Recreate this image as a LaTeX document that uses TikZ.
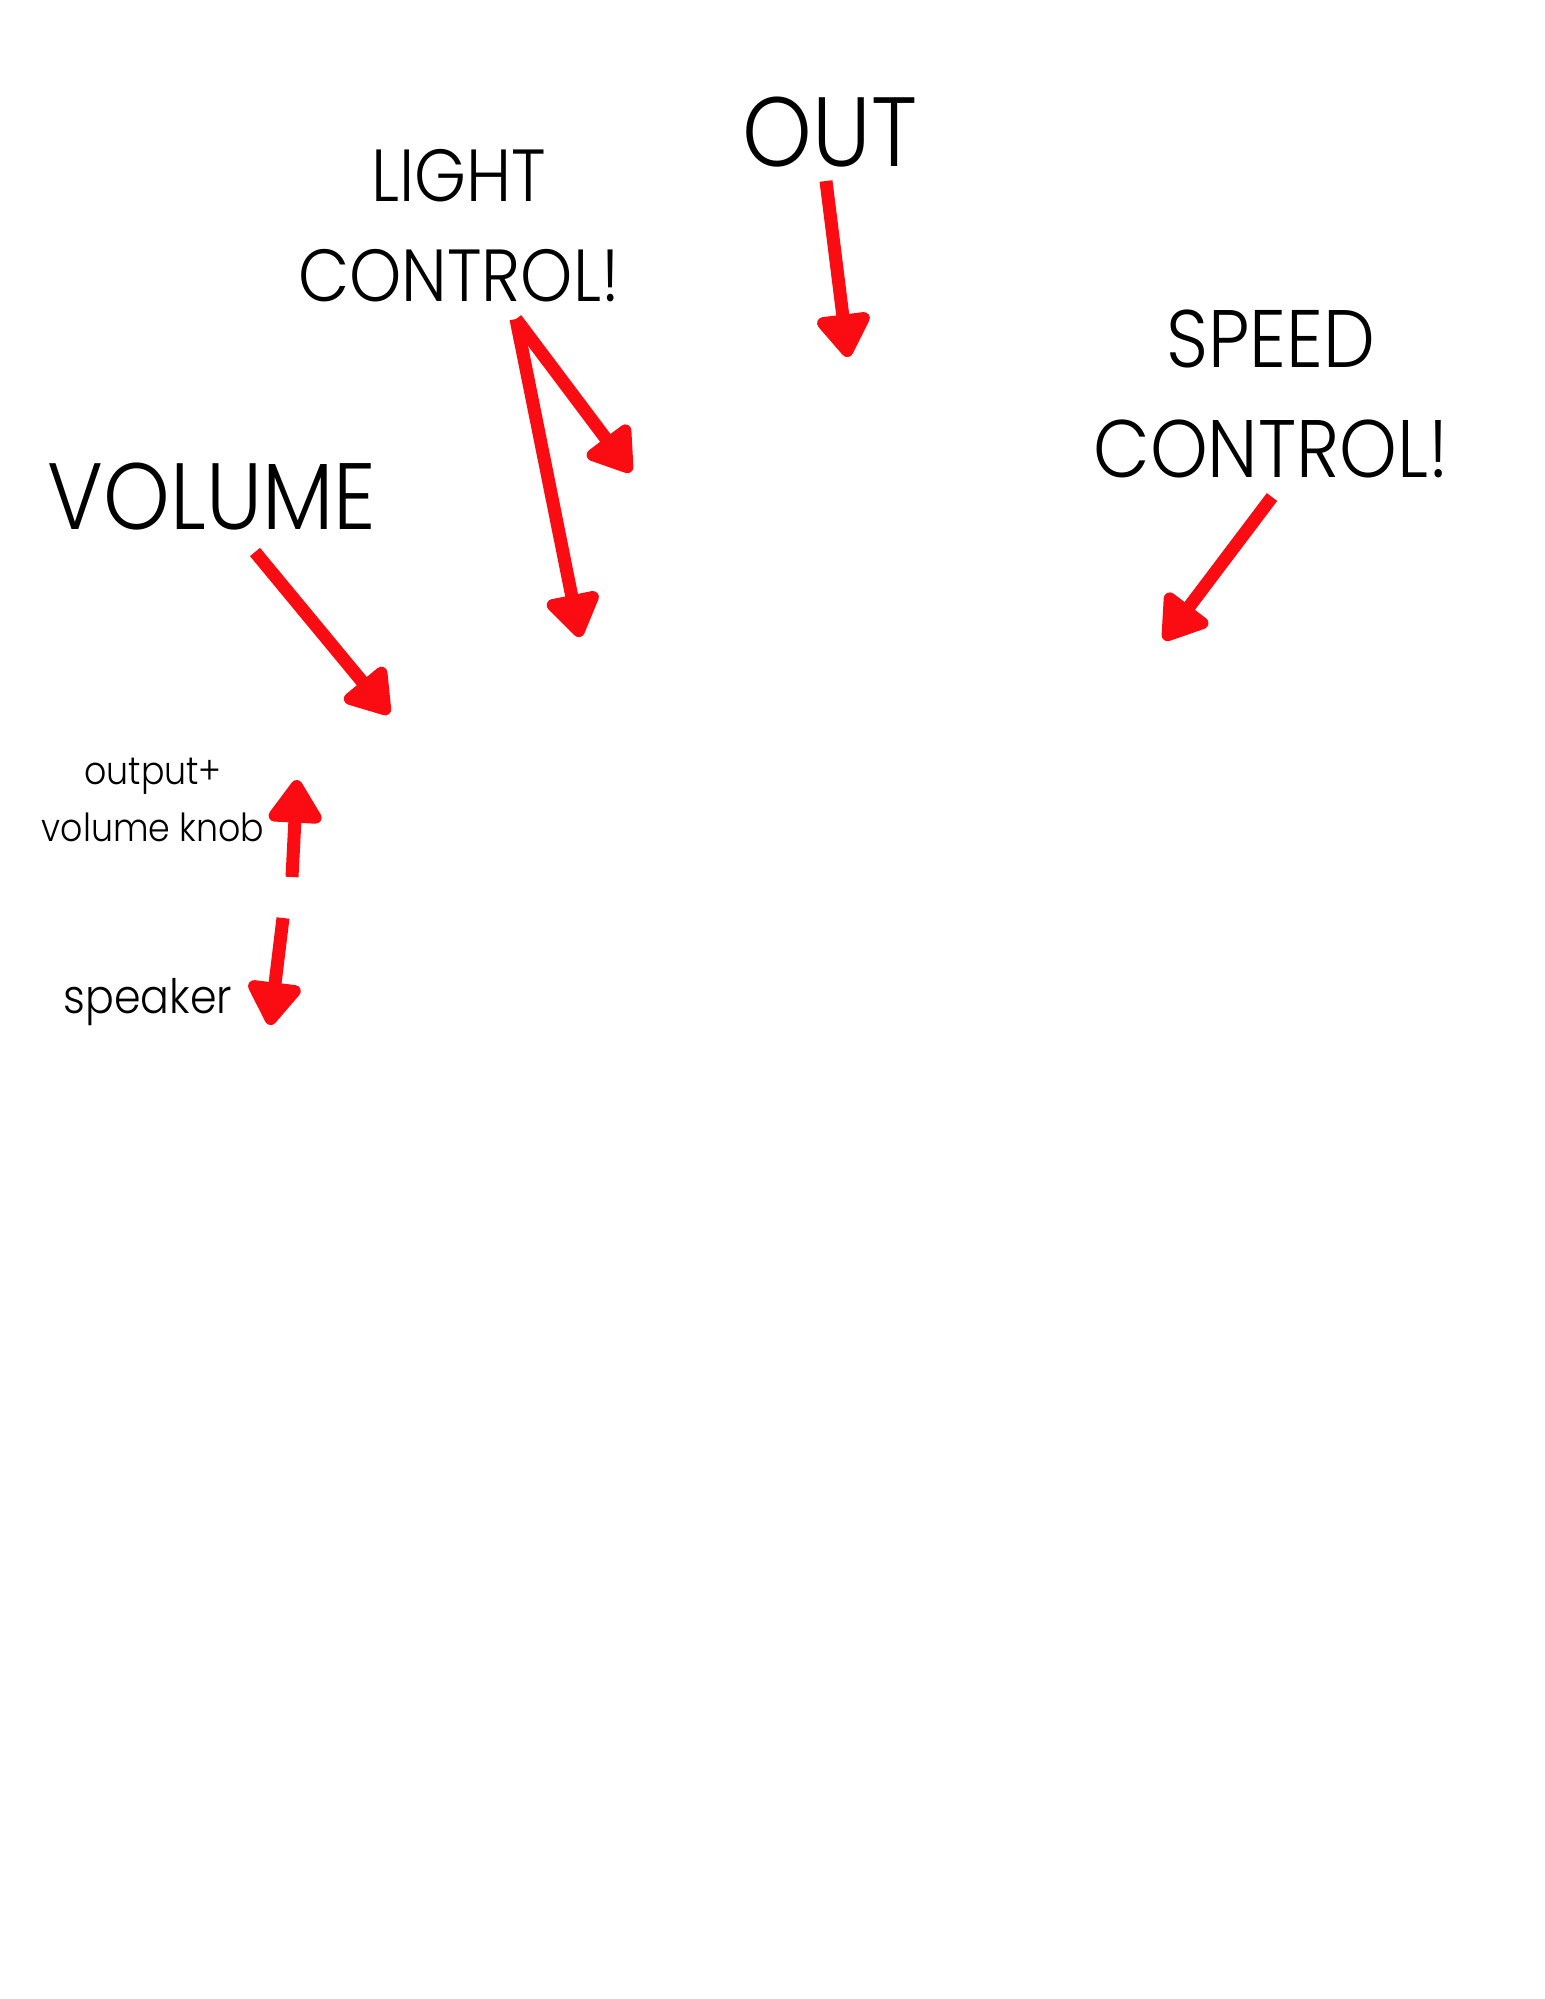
\documentclass[tikz,border=0pt]{standalone}
\usepackage{fontspec}
\setmainfont{Poppins}[UprightFont={* Light}, FakeStretch=0.9]
\usetikzlibrary{arrows.meta}
\definecolor{rosso}{RGB}{250,12,18}

\begin{document}
\begin{tikzpicture}[
        freccia/.style={rosso, line width=1.3mm, -{Triangle[width=6mm,length=4.8mm,round]}},
        scritta/.style={anchor=base, font=\fontsize{#1}{#1}\selectfont},
        scritta/.default=20]
        %area del foglio
            \path[use as bounding box, fill=white] (0,0) rectangle (15.45,-19.99);
        %etichette
            \node (out) at (8.30,-1.66)[scritta=28]{OUT};
            \node (lightA) at (4.59,-2.01)[scritta=21]{LIGHT};
            \node (lightB) at (4.59,-3.01)[scritta=21]{CONTROL!};
            \node (speedA) at (12.71,-3.67)[scritta=23.2]{SPEED};
            \node (speedB) at (12.71,-4.77)[scritta=23.2]{CONTROL!};
            \node (volume) at (2.12,-5.29)[scritta=26.8]{VOLUME};
            \node (outputA) at (1.53,-7.84)[scritta=11]{output+};
            \node (outputB) at (1.53,-8.41)[scritta=11]{volume knob};
            \node (speaker) at (1.48,-10.13)[scritta=13.5]{speaker};
        %estremi delle frecce
            \coordinate (outS) at (8.26,-1.81);
            \coordinate (outT) at (8.48,-3.57);
            \coordinate (lightS) at (5.16,-3.19);
            \coordinate (lightT1) at (6.31,-4.72);
            \coordinate (lightT2) at (5.80,-6.37);
            \coordinate (speedS) at (12.72,-4.97);
            \coordinate (speedT) at (11.64,-6.40);
            \coordinate (volS) at (2.55,-5.52);
            \coordinate (volT) at (3.89,-7.14);
            \coordinate (knobS) at (2.92,-8.77);
            \coordinate (knobT) at (2.97,-7.80);
            \coordinate (spkS) at (2.83,-9.18);
            \coordinate (spkT) at (2.70,-10.25);
        %frecce
            \draw[freccia] (outS) -- (outT);
            \draw[freccia] (lightS) -- (lightT1);
            \draw[freccia] (lightS) -- (lightT2);
            \draw[freccia] (speedS) -- (speedT);
            \draw[freccia] (volS) -- (volT);
            \draw[freccia] (knobS) -- (knobT);
            \draw[freccia] (spkS) -- (spkT);
    \end{tikzpicture}
\end{document}
